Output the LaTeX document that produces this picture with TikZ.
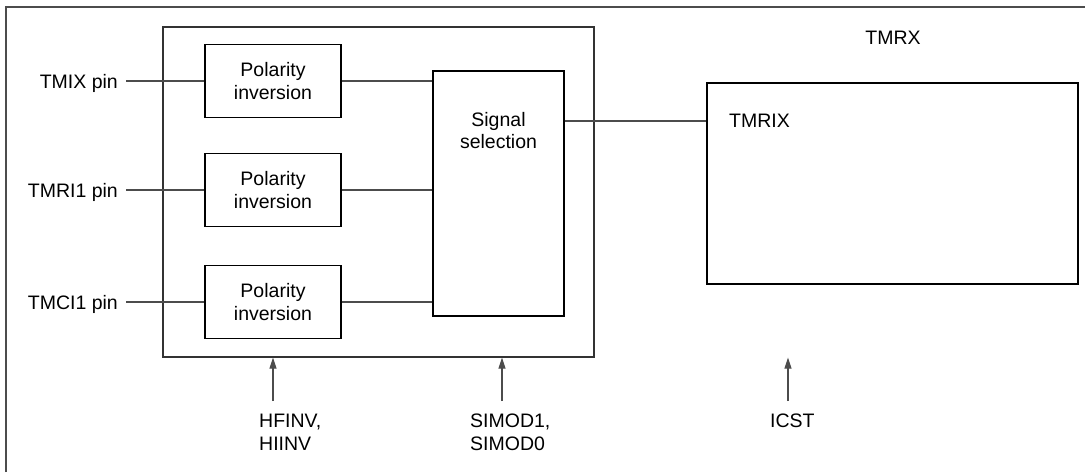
\documentclass[tikz,border=0pt]{standalone}
\usepackage{fontspec}
\setmainfont{Liberation Sans}
\usetikzlibrary{arrows.meta, positioning}

\begin{document}
\begin{tikzpicture}[
x=1pt, y=-1pt,
font=\fontsize{19.5}{22.7}\selectfont,
box/.style={rectangle, draw, line width=1.2pt, align=center, inner sep=0pt},
inv/.style={box, minimum width=136pt, minimum height=73pt},
pin/.style={anchor=east, inner xsep=8pt, inner ysep=0pt, text depth=0pt},
reg/.style={anchor=north west, align=left, inner sep=0pt},
wire/.style={draw=black!70, line width=1.2pt},
arrow/.style={wire, -{Triangle[length=11pt, width=7pt]}}
]

\useasboundingbox (0,0) rectangle (1090,472);
\draw[draw=black!70, line width=1.4pt] (6,472) -- (6,7) -- (1085,7);

\node[box, draw=black!80, minimum width=431pt, minimum height=330pt] (unit) at (378.5,192) {};
\node[inv] (inv1) at (273,81) {Polarity\\inversion};
\node[inv] (inv2) at (273,190) {Polarity\\inversion};
\node[inv] (inv3) at (273,302) {Polarity\\inversion};
\node[box, minimum width=131pt, minimum height=245pt] (sel) at (498.5,193.5) {};
\node[align=center] (sellabel) at (498.5,130.5) {Signal\\selection};

\node[box, minimum width=371pt, minimum height=201pt] (tmrx) at (892.5,183.5) {};
\node (tmrxlabel) at (893,38) {TMRX};
\node[anchor=west, inner sep=0pt] (tmrix) at (729,121) {TMRIX};

\node[pin] (tmix) at (126,81) {TMIX pin};
\node[pin] (tmri) at (126,190) {TMRI1 pin};
\node[pin] (tmci) at (126,302) {TMCI1 pin};

\draw[wire] (tmix) -- (inv1);
\draw[wire] (tmri) -- (inv2);
\draw[wire] (tmci) -- (inv3);
\draw[wire] (inv1) -- (inv1 -| sel.west);
\draw[wire] (inv2) -- (inv2 -| sel.west);
\draw[wire] (inv3) -- (inv3 -| sel.west);
\draw[wire] (sel.east |- tmrix) -- (tmrx.west |- tmrix);

% register bits below
\node[reg] (hfinv) at (259,414) {HFINV,\\HIINV};
\node[reg] (simod) at (470,414) {SIMOD1,\\SIMOD0};
\node[reg] (icst) at (770,414) {ICST};
\coordinate (hfinvtail) at (273,401);
\coordinate (simodtail) at (502,401);
\coordinate (icsttail) at (788,401);

\draw[arrow] (hfinvtail) -- (hfinvtail |- unit.south);
\draw[arrow] (simodtail) -- (simodtail |- unit.south);
\draw[arrow] (icsttail) -- (icsttail |- unit.south);

\end{tikzpicture}
\end{document}
